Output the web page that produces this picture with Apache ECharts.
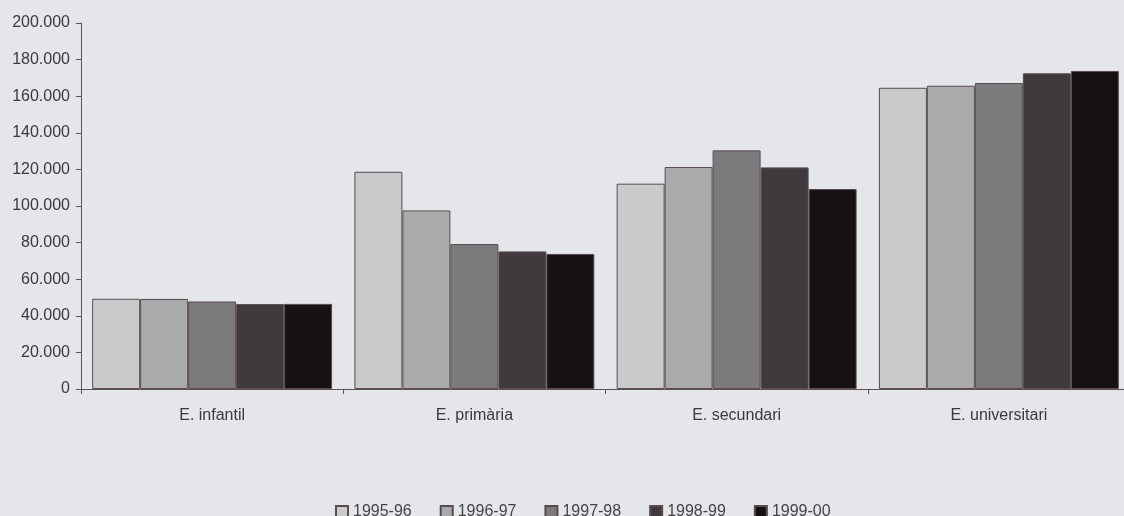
<!DOCTYPE html>
<html>
<head>
<meta charset="utf-8">
<script src="https://cdn.jsdelivr.net/npm/echarts@6/dist/echarts.min.js"></script>
<style>
html,body{margin:0;padding:0;background:#e4e6ea;}
#c{width:1124px;height:516px;}
</style>
</head>
<body>
<div id="c"></div>
<script>
const categories = ['E. infantil', 'E. primària', 'E. secundari', 'E. universitari'];
const seriesNames = ['1995-96', '1996-97', '1997-98', '1998-99', '1999-00'];
const v1995 = [49300, 118700, 112200, 164600];
const v1996 = [49200, 97600, 121300, 165700];
const v1997 = [47800, 79200, 130400, 167200];
const v1998 = [46400, 75200, 121100, 172500];
const v1999 = [46500, 73800, 109300, 173800];
const yTicks = [0, 20000, 40000, 60000, 80000, 100000, 120000, 140000, 160000, 180000, 200000];

const values = [v1995, v1996, v1997, v1998, v1999];
const colors = ['#c9cacc', '#a9aaac', '#7b7a7c', '#3f3a3e', '#161214'];

const chart = echarts.init(document.getElementById('c'), null, {renderer: 'canvas'});
const fmt = v => v === 0 ? '0' : (v / 1000).toFixed(0) + '.000';
const FONT = 'Liberation Sans, Arial, sans-serif';

chart.setOption({
  backgroundColor: '#e4e6ea',
  animation: false,
  textStyle: {fontFamily: FONT},
  grid: {left: 81, right: -6, top: 23, bottom: 127, containLabel: false, outerBoundsMode: 'none'},
  legend: {
    data: seriesNames,
    left: 330,
    top: 499,
    itemWidth: 12,
    itemHeight: 12,
    itemGap: 28,
    textStyle: {fontSize: 16, color: '#444', fontFamily: FONT},
    icon: 'rect'
  },
  xAxis: {
    type: 'category',
    data: categories,
    axisLine: {lineStyle: {color: '#5e5254', width: 1}},
    axisTick: {show: true, length: 5, lineStyle: {color: '#5e5254'}},
    axisLabel: {fontSize: 16, color: '#3a3a3a', margin: 19}
  },
  yAxis: {
    type: 'value',
    min: 0,
    max: 200000,
    interval: 20000,
    axisLine: {show: true, lineStyle: {color: '#5e5254', width: 1}},
    axisTick: {show: true, length: 5, lineStyle: {color: '#5e5254'}},
    splitLine: {show: false},
    axisLabel: {fontSize: 16, color: '#3a3a3a', margin: 11, formatter: v => yTicks.includes(v) ? fmt(v) : ''}
  },
  series: seriesNames.map((n, i) => ({
    name: n,
    type: 'bar',
    data: values[i],
    barGap: '0%',
    barCategoryGap: '8.5%',
    itemStyle: {color: colors[i], borderColor: '#5a4c4e', borderWidth: 1}
  }))
});
</script>
</body>
</html>
